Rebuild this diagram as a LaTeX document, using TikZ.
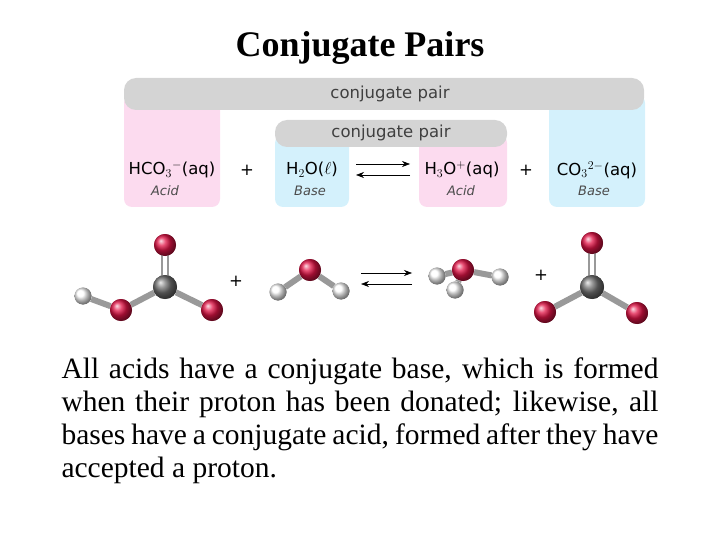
\documentclass[tikz,border=0pt]{standalone}
\usepackage{fontspec}
\setmainfont{Liberation Serif}
\newfontfamily\boxfont{DejaVu Sans}
\usetikzlibrary{arrows.meta}
\definecolor{oxyred}{RGB}{225,20,70}
\begin{document}
\begin{tikzpicture}
      [x=1pt,y=-1pt,
      pairbar/.style={fill=black!17,rounded corners=12pt},
      acidbox/.style={fill=magenta!14,rounded corners=8pt},
      basebox/.style={fill=cyan!17,rounded corners=8pt},
      species/.style={font=\boxfont\fontsize{16.5}{18}\selectfont,inner sep=0pt},
      role/.style={font=\boxfont\itshape\fontsize{13}{14}\selectfont,text=black!70,inner sep=0pt},
      oxy/.style={circle,inner sep=0pt,minimum size=22pt,ball color=oxyred},
      hyd/.style={circle,inner sep=0pt,minimum size=17pt,ball color=white},
      carb/.style={circle,inner sep=0pt,minimum size=24pt,ball color=black!55},
      bond/.style={line width=6pt,black!40},
      eq/.style={-{Stealth[length=8pt,width=6pt]},semithick}
      ]
      \useasboundingbox (0,0) rectangle (720,540);
      \node (title) at (360,48) {\fontsize{36}{40}\selectfont\bfseries Conjugate Pairs};

      % coloured boxes behind the equation
      \fill [acidbox] (124,95) rectangle (220,207);
      \fill [basebox] (549,95) rectangle (645,207);
      \fill [basebox] (275,135) rectangle (349,207);
      \fill [acidbox] (419,135) rectangle (507,207);
      \fill [pairbar] (124,78) rectangle (644,110);
      \fill [pairbar] (275,120) rectangle (507,147);
      \node (outer) at (390,94) [species,text=black!75] {conjugate pair};
      \node (inner) at (391,133) [species,text=black!75] {conjugate pair};

      \node (hco3) at (172,170) [species] {HCO$_3$$^-$(aq)};
      \node (h2o) at (312,170) [species] {H$_2$O($\ell$)};
      \node (h3o) at (462,170) [species] {H$_3$O$^+$(aq)};
      \node (co3) at (597,170) [species] {CO$_3$$^{2-}$(aq)};
      \node (plus1) at (247,170) [species] {+};
      \node (plus2) at (526,170) [species] {+};
      \node at (165,191) [role] {Acid};
      \node at (310,191) [role] {Base};
      \node at (461,191) [role] {Acid};
      \node at (594,191) [role] {Base};
      \coordinate (fa) at (356,164);
      \coordinate (fb) at (410,164);
      \draw [eq] (fa) -- (fb);
      \draw [eq] (fb) ++(0,11) -- ++(-54,0);

      % hydrogen carbonate
      \node (c1) at (165,287) [carb] {};
      \node (o1) at (165,245) [oxy] {};
      \node (o2) at (121,310) [oxy] {};
      \node (o3) at (212,310) [oxy] {};
      \node (h1) at (83,296) [hyd] {};
      \draw [bond] (h1) -- (o2) (o3) -- (c1) (o2) -- (c1);
      \draw [line width=2.5pt,black!40] ([xshift=-2.8pt]c1.center) -- ([xshift=-2.8pt]o1.center)
                                      ([xshift=2.8pt]c1.center) -- ([xshift=2.8pt]o1.center);
      \node at (165,287) [carb] {};
      \node at (165,245) [oxy] {};
      \node at (121,310) [oxy] {};
      \node at (212,310) [oxy] {};
      \node at (83,296) [hyd] {};
      \node (plus3) at (236,281) [species] {+};

      % water
      \node (o4) at (310,270) [oxy] {};
      \node (h2) at (278,292) [hyd] {};
      \node (h3) at (341,291) [hyd] {};
      \draw [bond] (h2) -- (o4) -- (h3);
      \node at (310,270) [oxy] {};
      \node at (278,292) [hyd] {};
      \node at (341,291) [hyd] {};

      \coordinate (ga) at (361,273);
      \coordinate (gb) at (412,273);
      \draw [eq] (ga) -- (gb);
      \draw [eq] (gb) ++(0,11) -- ++(-51,0);

      % hydronium
      \node (o5) at (463,270) [oxy] {};
      \node (h4) at (437,276) [hyd] {};
      \node (h5) at (500,277) [hyd] {};
      \node (h6) at (455,290) [hyd] {};
      \draw [bond] (h4) -- (o5) -- (h5);
      \node at (437,276) [hyd] {};
      \node at (463,270) [oxy] {};
      \node at (500,277) [hyd] {};
      \draw [bond] (o5) -- (h6);
      \node at (455,290) [hyd] {};
      \node (plus4) at (541,275) [species] {+};

      % carbonate
      \node (c2) at (592,287) [carb] {};
      \node (o6) at (592,243) [oxy] {};
      \node (o7) at (545,312) [oxy] {};
      \node (o8) at (637,313) [oxy] {};
      \draw [bond] (o7) -- (c2) -- (o8);
      \draw [line width=2.5pt,black!40] ([xshift=-2.8pt]c2.center) -- ([xshift=-2.8pt]o6.center)
                                      ([xshift=2.8pt]c2.center) -- ([xshift=2.8pt]o6.center);
      \node at (592,287) [carb] {};
      \node at (592,243) [oxy] {};
      \node at (545,312) [oxy] {};
      \node at (637,313) [oxy] {};

      \node (text) at (360,421) [text width=597pt,align=justify,inner sep=0pt]
        {\fontsize{29.5}{33}\selectfont\baselineskip=33pt All acids have a conjugate base, which is formed when their proton has been donated; likewise, all bases have a conjugate acid, formed after they have accepted a proton.\par};
    \end{tikzpicture}
\end{document}
